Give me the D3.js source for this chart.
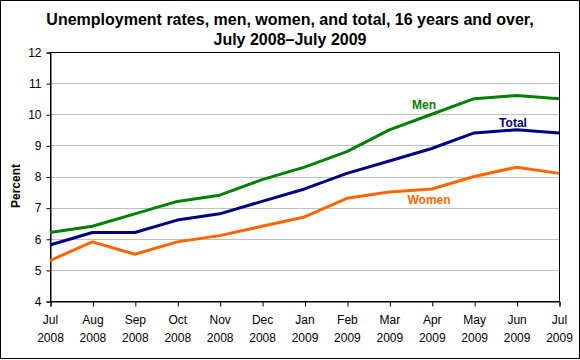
<!DOCTYPE html>
<html>
<head>
<meta charset="utf-8">
<script src="https://cdn.jsdelivr.net/npm/d3@7"></script>
<style>
  html, body { margin: 0; padding: 0; background: #fff; }
  svg { display: block; }
  text { font-family: Arial, "Liberation Sans", sans-serif; }
</style>
</head>
<body>
<svg id="chart" width="580" height="360"></svg>
<script>
const months = ["Jul","Aug","Sep","Oct","Nov","Dec","Jan","Feb","Mar","Apr","May","Jun","Jul"];
const years  = ["2008","2008","2008","2008","2008","2008","2009","2009","2009","2009","2009","2009","2009"];
const men    = [6.2, 6.4, 6.8, 7.2, 7.4, 7.9, 8.3, 8.8, 9.5, 10.0, 10.5, 10.6, 10.5];
const total  = [5.8, 6.2, 6.2, 6.6, 6.8, 7.2, 7.6, 8.1, 8.5, 8.9, 9.4, 9.5, 9.4];
const women  = [5.3, 5.9, 5.5, 5.9, 6.1, 6.4, 6.7, 7.3, 7.5, 7.6, 8.0, 8.3, 8.1];
const yTicks = [4, 5, 6, 7, 8, 9, 10, 11, 12];
const titleLines = ["Unemployment rates, men, women, and total, 16 years and over,", "July 2008\u2013July 2009"];

const series = [
  { name: "Men",   values: men,   color: "#008000" },
  { name: "Total", values: total, color: "#000080" },
  { name: "Women", values: women, color: "#FF6600" }
];

const svg = d3.select("#chart");
const pL = 50, pR = 559, pT = 52, pB = 301;

// outer frame
svg.append("rect").attr("x", 0.5).attr("y", 0.5).attr("width", 579).attr("height", 358)
  .attr("fill", "#fff").attr("stroke", "#000").attr("stroke-width", 1);

const x = d3.scaleLinear().domain([0, months.length - 1]).range([pL, pR]);
const y = d3.scaleLinear().domain([4, 12]).range([pB, pT]);

// gridlines
svg.append("g").selectAll("line").data(yTicks.filter(t => t > 4 && t < 12)).join("line")
  .attr("x1", pL).attr("x2", pR)
  .attr("y1", d => Math.round(y(d)) + 0.5).attr("y2", d => Math.round(y(d)) + 0.5)
  .attr("stroke", "#c0c0c0").attr("stroke-width", 1);

// plot border
svg.append("rect").attr("x", pL + 0.5).attr("y", pT + 0.5)
  .attr("width", pR - pL).attr("height", pB - pT)
  .attr("fill", "none").attr("stroke", "#000").attr("stroke-width", 1);

// y axis
const yAxis = d3.axisLeft(y).tickValues(yTicks).tickSize(4).tickPadding(5).tickFormat(d3.format("d"));
const gy = svg.append("g").attr("transform", `translate(${pL + 0.5},0.5)`).call(yAxis);
gy.select(".domain").attr("stroke", "#000");
gy.selectAll(".tick line").attr("stroke", "#000");
gy.selectAll("text").attr("font-size", 12).attr("fill", "#000")
  .attr("font-family", "Arial, 'Liberation Sans', sans-serif");

// x axis
const xAxis = d3.axisBottom(x).tickValues(d3.range(months.length)).tickSize(5).tickFormat("");
const gx = svg.append("g").attr("transform", `translate(0.5,${pB + 0.5})`).call(xAxis);
gx.select(".domain").attr("stroke", "#000");
gx.selectAll(".tick line").attr("stroke", "#000");
const lab = svg.append("g");
months.forEach((m, i) => {
  const t = lab.append("text").attr("text-anchor", "middle")
    .attr("font-size", 12).attr("fill", "#000");
  t.append("tspan").attr("x", x(i) + 0.5).attr("y", 324).text(m);
  t.append("tspan").attr("x", x(i) + 0.5).attr("y", 342).text(years[i]);
});

// y label
svg.append("text").attr("transform", `translate(20,186) rotate(-90)`)
  .attr("text-anchor", "middle").attr("font-size", 12).attr("font-weight", "bold").text("Percent");

// title
svg.append("text").attr("x", 290).attr("y", 25).attr("text-anchor", "middle")
  .attr("font-size", 16).attr("font-weight", "bold").text(titleLines[0]);
svg.append("text").attr("x", 290).attr("y", 45).attr("text-anchor", "middle")
  .attr("font-size", 16).attr("font-weight", "bold").text(titleLines[1]);

// lines
const line = d3.line().x((d, i) => x(i)).y(d => y(d));
series.forEach(s => {
  svg.append("path").datum(s.values).attr("d", line)
    .attr("fill", "none").attr("stroke", s.color).attr("stroke-width", 3)
    .attr("stroke-linejoin", "round");
});

// series labels
const labelPos = { Men: [424, 109], Total: [513, 127], Women: [429, 204] };
series.forEach(s => {
  svg.append("text").attr("x", labelPos[s.name][0]).attr("y", labelPos[s.name][1])
    .attr("text-anchor", "middle").attr("font-size", 12).attr("font-weight", "bold")
    .attr("fill", s.color).text(s.name);
});
</script>
</body>
</html>
